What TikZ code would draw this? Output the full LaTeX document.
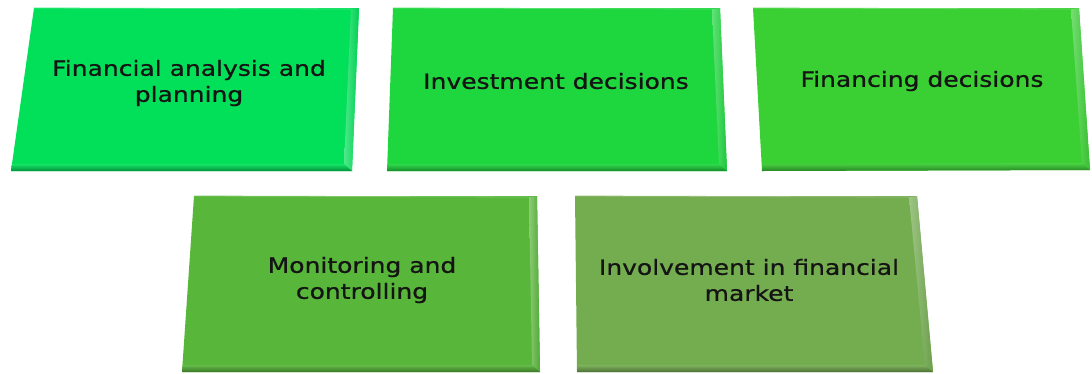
\documentclass[tikz,border=0pt]{standalone}
\usepackage{fontspec}
\newfontfamily\panelfont[FakeStretch=1.19, FakeBold=0.7]{DejaVu Sans}
\usetikzlibrary{calc}

\definecolor{panelA}{RGB}{2,224,90}
\definecolor{panelB}{RGB}{30,214,62}
\definecolor{panelC}{RGB}{58,208,52}
\definecolor{panelD}{RGB}{88,182,58}
\definecolor{panelE}{RGB}{116,172,80}

\tikzset{
  paneltext/.style={font=\panelfont\fontsize{21}{26}\selectfont,
    align=center, text=black!92, inner sep=0pt}
}

% bevelled panel: #1 name, #2 colour, #3 top-left, #4 top-right,
% #5 bottom-right, #6 bottom-left
\newcommand\drawpanel[6]{%
  \coordinate (#1-tl) at (#3);
  \coordinate (#1-tr) at (#4);
  \coordinate (#1-br) at (#5);
  \coordinate (#1-bl) at (#6);
  \coordinate (#1-itr) at ($(#1-tr)+(-8,1)$);
  \coordinate (#1-ibr) at ($(#1-br)+(-8,-7)$);
  \coordinate (#1-ibl) at ($(#1-bl)+(1,-7)$);
  % face
  \fill[#2] (#1-tl) -- (#1-tr) -- (#1-br) -- (#1-bl) -- cycle;
  % right bevel
  \shade[left color=#2!70!white, right color=#2!92!black]
    (#1-itr) -- (#1-tr) -- (#1-br) -- (#1-ibr) -- cycle;
  % bottom bevel
  \shade[top color=#2!92!white, bottom color=#2!65!black]
    (#1-ibl) -- (#1-ibr) -- (#1-br) -- (#1-bl) -- cycle;
  % light edge along the top
  \draw[#2!75!white, line width=0.8pt] (#1-tl) -- (#1-itr);
}

\begin{document}
\begin{tikzpicture}[x=1pt, y=-1pt]
  \useasboundingbox (0,0) rectangle (1092,373);
  \fill[white] (0,0) rectangle (1092,373);

  \drawpanel{b1}{panelA}{34,8}{359,8}{352,171}{11,171}
  \drawpanel{b2}{panelB}{393,8}{720,8}{727,171}{387,171}
  \drawpanel{b3}{panelC}{753,8}{1079,8}{1090,170}{762,171}
  \drawpanel{b4}{panelD}{194,196}{537,196}{540,372}{182,372}
  \drawpanel{b5}{panelE}{575,196}{917,196}{933,372}{577,372}

  \node[paneltext] (t1) at (189,83) {Financial analysis and\\planning};
  \node[paneltext] (t2) at (556,81) {Investment decisions};
  \node[paneltext] (t3) at (922,81) {Financing decisions};
  \node[paneltext] (t4) at (362,280) {Monitoring and\\controlling};
  \node[paneltext] (t5) at (749,280) {Involvement in financial\\market};
\end{tikzpicture}
\end{document}
